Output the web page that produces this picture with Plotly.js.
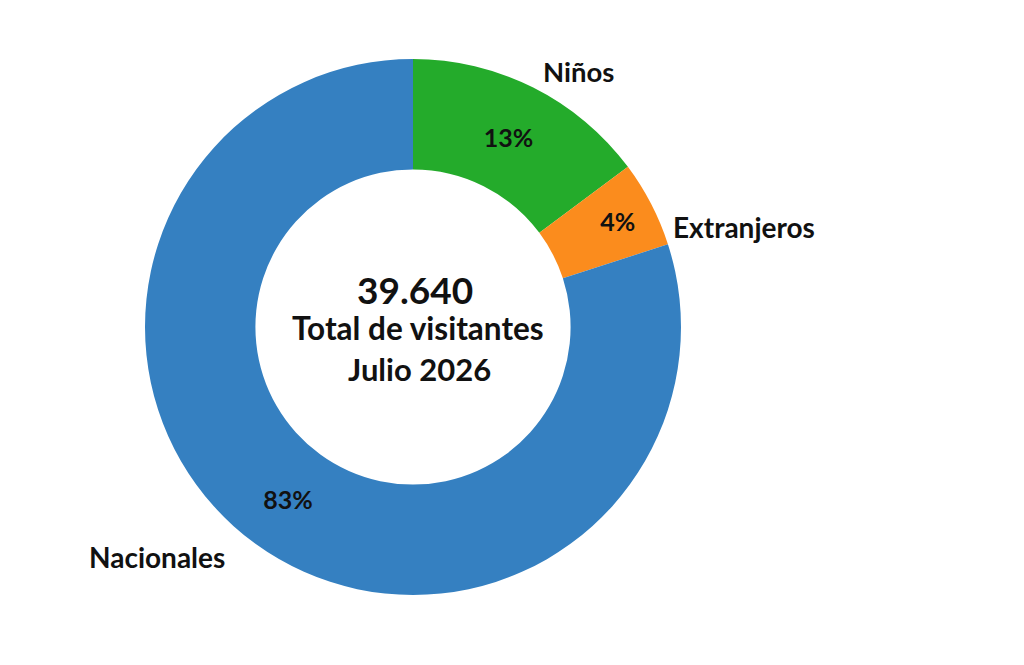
<!DOCTYPE html>
<html><head><meta charset="utf-8">
<script src="https://cdn.plot.ly/plotly-3.0.1.min.js"></script>
<style>html,body{margin:0;padding:0;background:#fff}#chart{width:1024px;height:665px}</style>
</head><body><div id="chart"></div>
<script>
const categories = ["Niños", "Extranjeros", "Nacionales"];
const visitors = [5870, 2060, 31710];
const pctLabels = ["13%", "4%", "83%"];
const colors = ["#24ab2b", "#fb8c1d", "#3580c1"];
const totalText = "39.640";
const subtitleLines = ["Total de visitantes", "Julio 2026"];

const W = 1024, H = 665;
const FONT = "Lato, 'Open Sans', sans-serif";

const trace = {
  type: "pie",
  labels: categories,
  values: visitors,
  text: pctLabels,
  textinfo: "text",
  textposition: "inside",
  insidetextorientation: "horizontal",
  insidetextfont: {family: FONT, size: 25, color: "#111", weight: "bold"},
  hole: 0.588,
  sort: false,
  direction: "clockwise",
  rotation: 0,
  marker: {colors: colors, line: {width: 0}},
  domain: {x: [145 / W, 681 / W], y: [70 / H, 606 / H]},
  showlegend: false,
  hoverinfo: "label+value+text"
};

function ann(text, px, py, size, anchor) {
  return {text: text, x: px / W, y: 1 - py / H, xref: "paper", yref: "paper",
    xanchor: anchor || "center", yanchor: "middle", showarrow: false,
    font: {family: FONT, size: size, color: "#111", weight: "bold"}};
}

const layout = {
  width: W, height: H,
  margin: {l: 0, r: 0, t: 0, b: 0},
  paper_bgcolor: "#fff",
  annotations: [
    ann(categories[0], 578, 72, 27.5, "center"),
    ann(categories[1], 671, 227, 28, "left"),
    ann(categories[2], 157, 557, 28, "center"),
    ann(totalText, 415, 289, 37, "center"),
    ann(subtitleLines[0], 418, 328, 31.5, "center"),
    ann(subtitleLines[1], 419, 369, 31, "center")
  ]
};

Plotly.newPlot("chart", [trace], layout, {displayModeBar: false, staticPlot: true});
</script></body></html>
